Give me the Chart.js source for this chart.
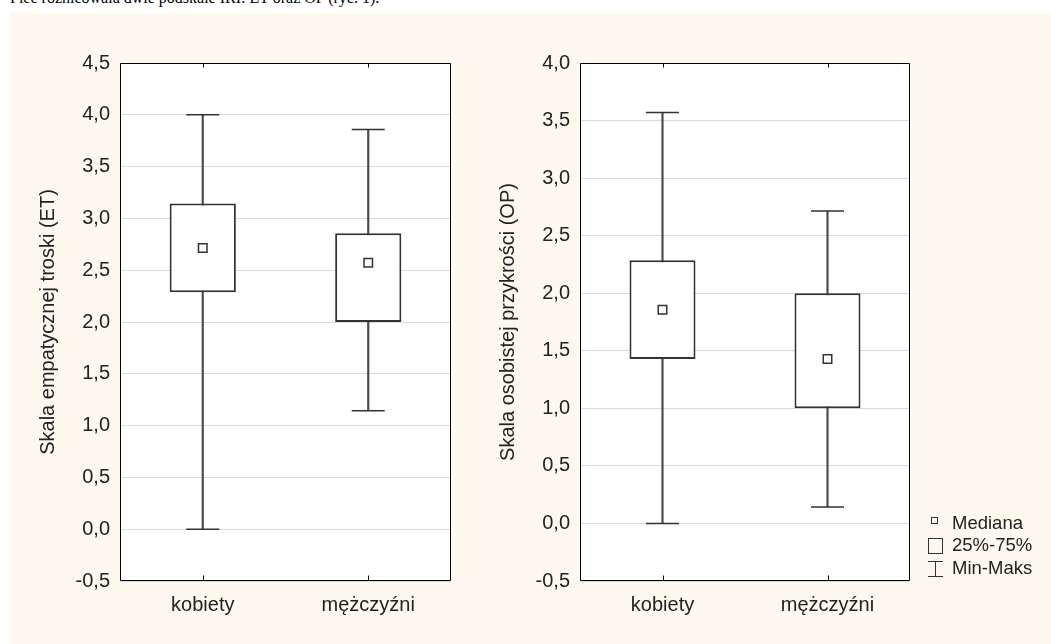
<!DOCTYPE html>
<html lang="pl">
<head>
<meta charset="utf-8">
<title>Skale IRI: ET i OP</title>
<script src="https://cdn.jsdelivr.net/npm/chart.js@4/dist/chart.umd.min.js"></script>
<style>
  html, body { margin: 0; padding: 0; background: #fff; width: 1051px; height: 644px; overflow: hidden; }
  .page_text { position: absolute; left: 10px; top: -10px; font: 16px 'Liberation Serif', 'Times New Roman', serif; line-height: 16px; white-space: nowrap; color: #000; }
  .panel { position: absolute; left: 10px; top: 13px; width: 1041px; height: 631px; background: #fef9ef; }
  canvas { position: absolute; }
  .legend_sym { position: absolute; box-sizing: border-box; }
  .legend_text { position: absolute; left: 952px; font: 18.5px 'Liberation Sans', Arial, sans-serif; line-height: 20px; color: #222; white-space: nowrap; }
</style>
</head>
<body>
<div class="page_text">Płeć różnicowała dwie podskale IRI: ET oraz OP (ryc. 1).</div>
<div class="panel"></div>
<canvas id="chartET" width="460" height="631" style="left:10px; top:13px;"></canvas>
<canvas id="chartOP" width="581" height="631" style="left:470px; top:13px;"></canvas>

<!-- legend -->
<div class="legend_sym" style="left:931px; top:517px; width:7px; height:7px; border:1px solid #333;"></div>
<div class="legend_text" style="top:513px;">Mediana</div>
<div class="legend_sym" style="left:928px; top:538px; width:15px; height:16px; border:1.5px solid #333;"></div>
<div class="legend_text" style="top:535px;">25%-75%</div>
<div class="legend_sym" style="left:928px; top:561px; width:15px; height:16px; border-top:1px solid #333; border-bottom:1px solid #333;">
  <div style="position:absolute; left:6.5px; top:0; width:1px; height:14px; background:#333;"></div>
</div>
<div class="legend_text" style="top:558px;">Min-Maks</div>

<script>
const categories = ['kobiety', 'mężczyźni'];

// Skala empatycznej troski (ET)
const etMin = [0.0, 1.143];
const etQ1 = [2.286, 2.0];
const etMedian = [2.714, 2.571];
const etQ3 = [3.143, 2.857];
const etMax = [4.0, 3.857];
const etTicks = [-0.5, 0, 0.5, 1, 1.5, 2, 2.5, 3, 3.5, 4, 4.5];

// Skala osobistej przykrości (OP)
const opMin = [0.0, 0.143];
const opQ1 = [1.429, 1.0];
const opMedian = [1.857, 1.429];
const opQ3 = [2.286, 2.0];
const opMax = [3.571, 2.714];
const opTicks = [-0.5, 0, 0.5, 1, 1.5, 2, 2.5, 3, 3.5, 4];

const FONT = { family: "'Liberation Sans', Arial, sans-serif", size: 20 };
const TEXT = '#222';
const LINE = '#333';

// white plot area + black frame + small inward category ticks
const framePlugin = {
  id: 'frame',
  beforeDraw(chart) {
    const { ctx, chartArea: a } = chart;
    ctx.save();
    ctx.fillStyle = '#fff';
    ctx.fillRect(a.left, a.top, a.right - a.left, a.bottom - a.top);
    ctx.restore();
  },
  afterDraw(chart) {
    const { ctx, chartArea: a, scales: { x } } = chart;
    const l = Math.round(a.left) + 0.5, r = Math.round(a.right) - 0.5;
    const t = Math.round(a.top) + 0.5, b = Math.round(a.bottom) - 0.5;
    ctx.save();
    ctx.strokeStyle = '#000';
    ctx.lineWidth = 1;
    ctx.beginPath();
    ctx.rect(l, t, r - l, b - t);
    x.ticks.forEach((tk, i) => {
      const px = Math.round(x.getPixelForTick(i)) + 0.5;
      ctx.moveTo(px, b);
      ctx.lineTo(px, b - 5);
      ctx.moveTo(px, t);
      ctx.lineTo(px, t + 4);
    });
    ctx.stroke();
    ctx.restore();
  }
};

function boxChart(id, yTitle, ticks, mins, q1s, medians, q3s, maxs, padRight) {
  const ctx = document.getElementById(id).getContext('2d');
  return new Chart(ctx, {
    type: 'bar',
    data: {
      labels: categories,
      datasets: [
        {
          // whisker min-max
          data: mins.map((v, i) => [v, maxs[i]]),
          backgroundColor: '#4a4a4a',
          barThickness: 1.5,
          grouped: false,
          order: 4
        },
        {
          // box 25%-75%
          data: q1s.map((v, i) => [v, q3s[i]]),
          backgroundColor: '#fff',
          borderColor: LINE,
          borderWidth: 2,
          borderSkipped: false,
          barPercentage: 0.4,
          categoryPercentage: 1,
          grouped: false,
          order: 3
        },
        {
          type: 'line',
          data: mins,
          showLine: false,
          pointStyle: 'line',
          pointRadius: 16.5,
          pointBorderColor: LINE,
          pointBorderWidth: 1.5,
          order: 2
        },
        {
          type: 'line',
          data: maxs,
          showLine: false,
          pointStyle: 'line',
          pointRadius: 16.5,
          pointBorderColor: LINE,
          pointBorderWidth: 1.5,
          order: 2
        },
        {
          // median
          type: 'line',
          data: medians,
          showLine: false,
          pointStyle: 'rect',
          pointRadius: 6,
          pointBackgroundColor: '#fff',
          pointBorderColor: LINE,
          pointBorderWidth: 1.5,
          order: 1
        }
      ]
    },
    options: {
      responsive: false,
      devicePixelRatio: 1,
      animation: false,
      events: [],
      layout: { padding: { top: 50, right: padRight, bottom: 0, left: 0 } },
      plugins: {
        legend: { display: false },
        tooltip: { enabled: false }
      },
      scales: {
        x: {
          offset: true,
          grid: { display: false, drawTicks: false },
          border: { display: false },
          ticks: { font: FONT, color: TEXT, padding: 12, maxRotation: 0 },
          afterFit: (s) => { s.height = 63; }
        },
        y: {
          min: ticks[0],
          max: ticks[ticks.length - 1],
          afterBuildTicks: (s) => { s.ticks = ticks.map((v) => ({ value: v })); },
          grid: { color: '#dadada', lineWidth: 1, drawTicks: false },
          border: { display: false },
          ticks: {
            font: FONT,
            color: TEXT,
            padding: 10,
            callback: (v) => Number(v).toFixed(1).replace('.', ',')
          },
          title: {
            display: true,
            text: yTitle,
            font: FONT,
            color: TEXT,
            padding: { top: 26, bottom: 0 }
          },
          afterFit: (s) => { s.width = 110; }
        }
      }
    },
    plugins: [framePlugin]
  });
}

boxChart('chartET', 'Skala empatycznej troski (ET)', etTicks, etMin, etQ1, etMedian, etQ3, etMax, 19);
boxChart('chartOP', 'Skala osobistej przykrości (OP)', opTicks, opMin, opQ1, opMedian, opQ3, opMax, 141);
</script>
</body>
</html>
